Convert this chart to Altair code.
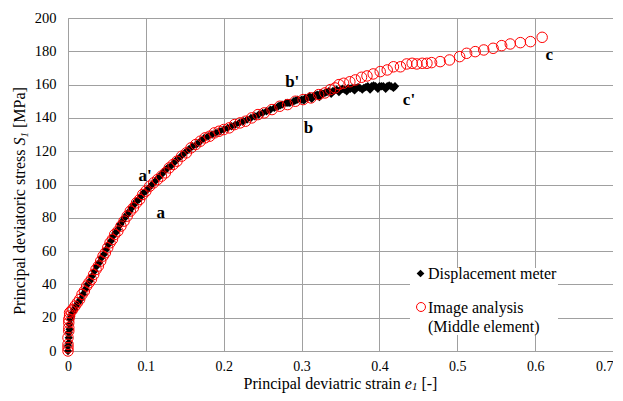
import altair as alt
import pandas as pd

# ---------------- data ----------------
disp_strain = [0.000, 0.000, 0.001, 0.001, 0.001, 0.002, 0.002, 0.003, 0.004, 0.006,
               0.008, 0.010, 0.013, 0.016, 0.019, 0.022, 0.025, 0.028, 0.031, 0.034,
               0.037, 0.040, 0.043, 0.046, 0.049, 0.052, 0.055, 0.058, 0.061, 0.064,
               0.067, 0.070, 0.073, 0.076, 0.079, 0.082, 0.085, 0.088, 0.091, 0.094,
               0.097, 0.100, 0.104, 0.108, 0.112, 0.116, 0.120, 0.124, 0.128, 0.132,
               0.136, 0.140, 0.145, 0.150, 0.155, 0.160, 0.165, 0.170, 0.175, 0.180,
               0.185, 0.190, 0.195, 0.200, 0.205, 0.210, 0.215, 0.220, 0.225, 0.230,
               0.235, 0.240, 0.245, 0.250, 0.255, 0.260, 0.265, 0.270, 0.275, 0.280,
               0.285, 0.290, 0.295, 0.300, 0.305, 0.310, 0.315, 0.320, 0.325, 0.330,
               0.335, 0.340, 0.345, 0.350, 0.355, 0.360, 0.365, 0.370, 0.375, 0.380,
               0.385, 0.390, 0.395, 0.400, 0.405, 0.410, 0.415, 0.420, 0.338, 0.348,
               0.358, 0.368, 0.378, 0.388, 0.398, 0.408, 0.418, 0.303, 0.313, 0.323,
               0.3325, 0.3425, 0.3525, 0.3625, 0.3725, 0.3825, 0.3925, 0.4025, 0.4125,
               0.3075, 0.3175, 0.3275, 0.2925, 0.2825, 0.2725]
disp_stress = [0, 3, 5, 8, 11, 13, 16, 19, 21, 23,
               25, 27, 29, 31, 34, 37, 40, 42, 45, 48,
               51, 53, 56, 58, 61, 64, 66, 69, 71, 73,
               76, 78, 80, 82, 84, 86, 88, 90, 91, 93,
               95, 96, 98, 100, 102, 104, 106, 108, 110, 111,
               113, 115, 117, 119, 121, 123, 124, 126, 128, 129,
               130, 131, 132, 133, 134, 135, 136, 137, 138, 139,
               140, 141, 142, 143, 144, 145, 146, 147, 148, 149,
               149, 150, 151, 151, 152, 153, 153, 154, 155, 155,
               156, 156, 157, 157, 157, 158, 158, 158, 158, 158,
               159, 159, 159, 159, 159, 159, 159, 159, 154.5, 155.5,
               156, 156.5, 157, 157, 157.5, 157.5, 158, 150.5, 151.5, 152.5,
               155.5, 156.5, 157.5, 157.5, 158.5, 158.5, 159.5, 159, 159.5,
               152, 153.5, 154.5, 150.5, 149, 147.5]

img_strain = [0.000, 0.000, 0.000, 0.000, 0.001, 0.001, 0.001, 0.001, 0.002, 0.002,
              0.004, 0.006, 0.009, 0.012, 0.015, 0.018, 0.021, 0.024, 0.027, 0.030,
              0.033, 0.036, 0.039, 0.042, 0.045, 0.048, 0.051, 0.054, 0.057, 0.060,
              0.064, 0.068, 0.072, 0.076, 0.080, 0.084, 0.088, 0.092, 0.096, 0.100,
              0.105, 0.110, 0.115, 0.120, 0.125, 0.130, 0.135, 0.140, 0.146, 0.152,
              0.158, 0.164, 0.170, 0.176, 0.182, 0.188, 0.194, 0.200, 0.207, 0.214,
              0.221, 0.228, 0.236, 0.244, 0.252, 0.262, 0.272, 0.282, 0.292, 0.302,
              0.312, 0.322, 0.330, 0.337, 0.343, 0.348, 0.354, 0.362, 0.369, 0.377,
              0.384, 0.392, 0.401, 0.410, 0.418, 0.427, 0.435, 0.442, 0.448, 0.455,
              0.461, 0.467, 0.478, 0.490, 0.503, 0.512, 0.523, 0.534, 0.546, 0.557,
              0.568, 0.581, 0.594, 0.609]
img_stress = [0, 2, 4, 8, 12, 14, 17, 19, 21, 23,
              24, 25, 27, 29, 31, 34, 36, 39, 41, 43,
              46, 49, 51, 54, 57, 59, 62, 65, 67, 70,
              72, 75, 78, 81, 84, 86, 89, 91, 94, 96,
              99, 101, 103, 105, 107, 110, 112, 114, 117, 119,
              122, 124, 126, 128, 129, 131, 132, 133, 134, 136,
              137, 138, 140, 142, 143, 145, 147, 148, 150, 151,
              152, 154, 155, 157, 158, 160, 160.8, 161.7, 162.8, 164.4,
              165.2, 166.4, 167.8, 168.8, 170.7, 170.7, 172.4, 172.8, 172.4, 172.8,
              172.8, 173.2, 173.8, 174.8, 176.8, 178.8, 179.8, 180.8, 181.8, 183.4,
              184.4, 185.2, 185.8, 188.4]

x_ticks = [0, 0.1, 0.2, 0.3, 0.4, 0.5, 0.6, 0.7]
y_ticks = [0, 20, 40, 60, 80, 100, 120, 140, 160, 180, 200]

point_labels = ["a'", "a", "b'", "b", "c", "c'"]
label_strain = [0.099, 0.119, 0.288, 0.309, 0.618, 0.438]
label_stress = [105, 83, 161.5, 134, 178, 151]

legend_labels = ["Displacement meter", "Image analysis", "(Middle element)"]

assert len(disp_strain) == len(disp_stress)
assert len(img_strain) == len(img_stress)

disp_df = pd.DataFrame({"e": disp_strain, "S": disp_stress})
img_df = pd.DataFrame({"e": img_strain, "S": img_stress})
lbl_df = pd.DataFrame({"e": label_strain, "S": label_stress, "label": point_labels})

FONT = "Liberation Serif, Times New Roman, Times, serif"
GRID = "#a0a0a0"

x_scale = alt.Scale(domain=[0, 0.7], nice=False, zero=False)
y_scale = alt.Scale(domain=[0, 200], nice=False)

x_axis = alt.Axis(values=x_ticks, format="~g", title=None, grid=True, gridColor=GRID,
                  gridWidth=1, domainColor=GRID, ticks=False, labelFont=FONT,
                  labelFontSize=14, labelColor="black", labelPadding=8,
                  labelFlush=False, labelOverlap=False,
                  labelAlign={"condition": {"test": "datum.value >= 0.7", "value": "right"},
                              "value": "center"})
y_axis = alt.Axis(values=y_ticks, format="d", title=None, grid=True, gridColor=GRID,
                  gridWidth=1, domainColor=GRID, ticks=False, labelFont=FONT,
                  labelFontSize=14.5, labelColor="black", labelPadding=12,
                  labelFlush=False, labelOverlap=False)

X = alt.X("e:Q", scale=x_scale, axis=x_axis)
Y = alt.Y("S:Q", scale=y_scale, axis=y_axis)

disp = alt.Chart(disp_df).mark_point(
    shape="diamond", filled=True, color="black", size=70, opacity=1, clip=False
).encode(x=X, y=Y)

img = alt.Chart(img_df).mark_point(
    shape="circle", filled=False, color="#ff0000", size=110, strokeWidth=1,
    opacity=1, clip=False
).encode(x=X, y=Y)

labels = alt.Chart(lbl_df).mark_text(
    font=FONT, fontWeight="bold", fontSize=17, color="black"
).encode(x=X, y=Y, text="label:N")

one = alt.Data(values=[{"k": 1}])


def txt(s, x, y, size=16, style="normal", angle=0, align="left"):
    return alt.Chart(one).mark_text(
        text=s, font=FONT, fontSize=size, fontStyle=style, color="black",
        angle=angle, align=align, baseline="alphabetic"
    ).encode(x=alt.value(x), y=alt.value(y))


# axis titles (rich text pieces)
x_title = [
    txt("Principal deviatric strain", 175.5, 371),
    txt("e", 336.8, 371, style="italic"),
    txt("1", 343.9, 372.3, size=11, style="italic"),
    txt("[-]", 353.4, 371),
]
y_title = [
    txt("Principal deviatoric stress", -43.5, 296.8, angle=270),
    txt("S", -43.5, 127.5, style="italic", angle=270),
    txt("1", -40.5, 119.5, size=11, style="italic", angle=270),
    txt("[MPa]", -43.5, 110.0, angle=270),
]

# legend
leg_box = alt.Chart(one).mark_rect(fill="white").encode(
    x=alt.value(342), x2=alt.value(490), y=alt.value(250), y2=alt.value(317))
leg_d = alt.Chart(one).mark_point(shape="diamond", filled=True, color="black",
                                  size=60, opacity=1).encode(
    x=alt.value(352.5), y=alt.value(255.5))
leg_c = alt.Chart(one).mark_point(shape="circle", filled=False, color="#ff0000",
                                  size=80, strokeWidth=1, opacity=1).encode(
    x=alt.value(353), y=alt.value(289))


def ltxt(s, x, y):
    return alt.Chart(one).mark_text(
        text=s, font=FONT, fontSize=16, color="black", align="left",
        baseline="middle").encode(x=alt.value(x), y=alt.value(y))


leg_t = [ltxt(legend_labels[0], 360, 256),
         ltxt(legend_labels[1], 360, 290),
         ltxt(legend_labels[2], 360, 309)]

chart = alt.layer(
    disp, img, labels, leg_box, leg_d, leg_c, *leg_t, *x_title, *y_title
).properties(
    width=545, height=333,
    padding={"left": 60, "top": 10, "right": 0, "bottom": 42},
    autosize=alt.AutoSizeParams(type="none"),
).configure_view(stroke=GRID, strokeWidth=1).configure(background="white")

chart.save("out.html", embed_options={"renderer": "svg", "actions": False})
